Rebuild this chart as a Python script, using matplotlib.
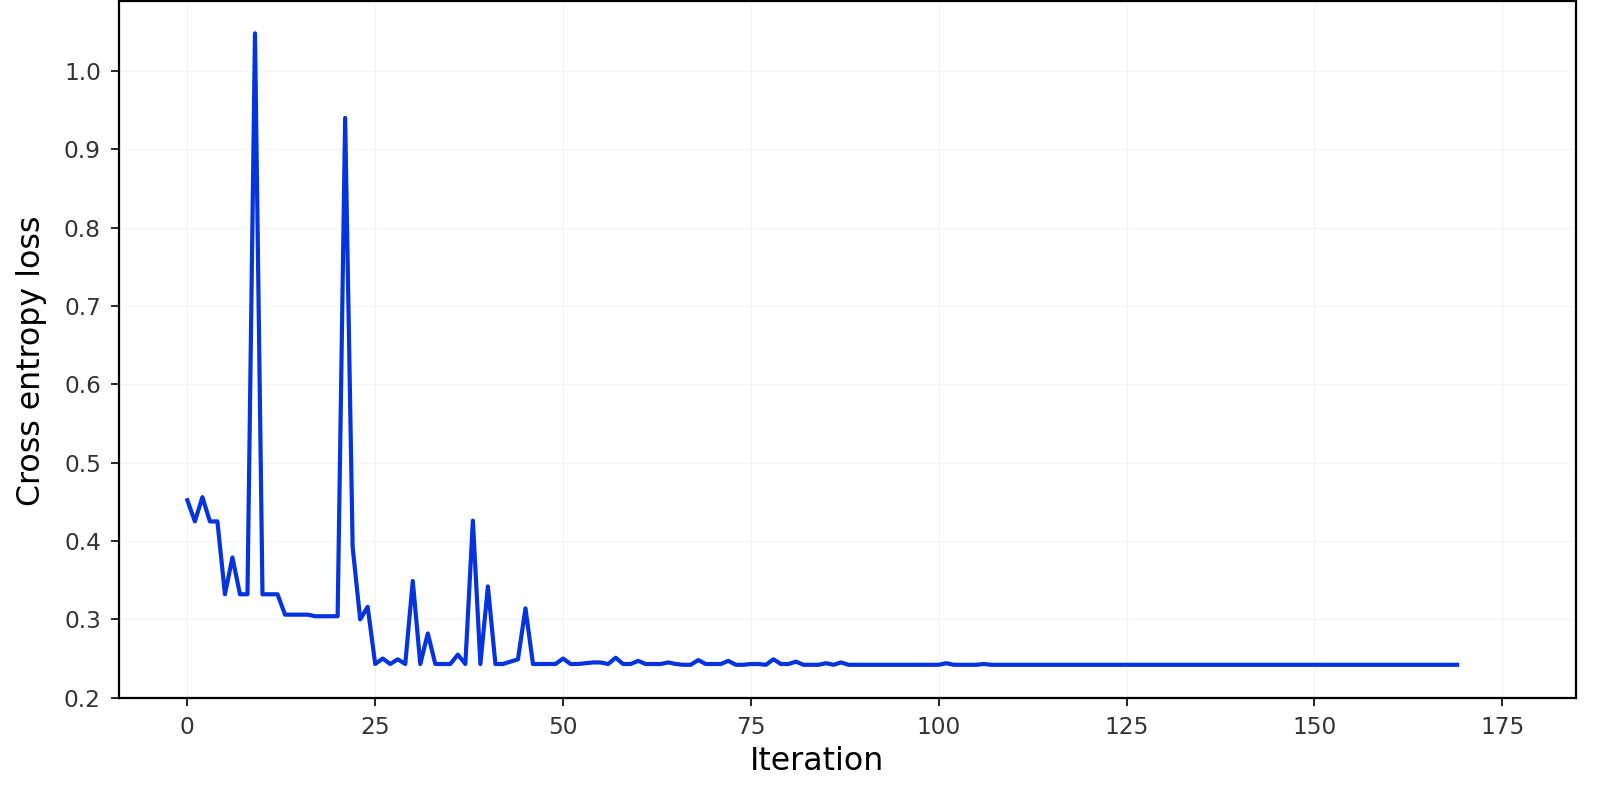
import matplotlib
matplotlib.use("Agg")
import matplotlib.pyplot as plt
import numpy as np

# loss per iteration
loss = [
    0.452, 0.425, 0.456, 0.425, 0.425, 0.332, 0.379, 0.332, 0.332, 1.048,
    0.332, 0.332, 0.332, 0.306, 0.306, 0.306, 0.306, 0.304, 0.304, 0.304,
    0.304, 0.940, 0.392, 0.300, 0.316, 0.243, 0.250, 0.243, 0.249, 0.243,
    0.349, 0.243, 0.282, 0.243, 0.243, 0.243, 0.255, 0.243, 0.426, 0.243,
    0.342, 0.243, 0.243, 0.246, 0.249, 0.314, 0.243, 0.243, 0.243, 0.243,
    0.250, 0.243, 0.243, 0.244, 0.245, 0.245, 0.243, 0.251, 0.243, 0.243,
    0.247, 0.243, 0.243, 0.243, 0.245, 0.243, 0.242, 0.242, 0.248, 0.243,
    0.243, 0.243, 0.247, 0.242, 0.242, 0.243, 0.243, 0.242, 0.249, 0.243,
    0.243, 0.246, 0.242, 0.242, 0.242, 0.244, 0.242, 0.245, 0.242, 0.242,
    0.242, 0.242, 0.242, 0.242, 0.242, 0.242, 0.242, 0.242, 0.242, 0.242,
    0.242, 0.244, 0.242, 0.242, 0.242, 0.242, 0.243, 0.242, 0.242, 0.242,
    0.242, 0.242, 0.242, 0.242, 0.242, 0.242, 0.242, 0.242, 0.242, 0.242,
    0.242, 0.242, 0.242, 0.242, 0.242, 0.242, 0.242, 0.242, 0.242, 0.242,
    0.242, 0.242, 0.242, 0.242, 0.242, 0.242, 0.242, 0.242, 0.242, 0.242,
    0.242, 0.242, 0.242, 0.242, 0.242, 0.242, 0.242, 0.242, 0.242, 0.242,
    0.242, 0.242, 0.242, 0.242, 0.242, 0.242, 0.242, 0.242, 0.242, 0.242,
    0.242, 0.242, 0.242, 0.242, 0.242, 0.242, 0.242, 0.242, 0.242, 0.242,
]
iterations = np.arange(len(loss))
x_ticks = [0, 25, 50, 75, 100, 125, 150, 175]
y_ticks = [0.2, 0.3, 0.4, 0.5, 0.6, 0.7, 0.8, 0.9, 1.0]

fig = plt.figure(figsize=(8.04, 3.98), dpi=200)
ax = fig.add_axes([0.074, 0.1235, 0.906, 0.875])

ax.plot(iterations, loss, color="#0433e0", linewidth=1.5)

ax.set_xlim(-9.1, 184.8)
ax.set_ylim(0.2, 1.089)
ax.set_xticks(x_ticks)
ax.set_yticks(y_ticks)
ax.set_yticklabels([f"{v:.1f}" for v in y_ticks])
ax.grid(True, color="#f5f5f5", linewidth=0.5)
ax.set_axisbelow(True)

ax.tick_params(labelsize=8.4, labelcolor="#333333", length=3, width=0.6)
for sp in ax.spines.values():
    sp.set_linewidth(0.8)

ax.set_xlabel("Iteration", fontsize=11.4, labelpad=2.5)
ax.set_ylabel("Cross entropy loss", fontsize=11.4, labelpad=6)
# labels sit a bit off-centre in the reference
ax.xaxis.label.set_x(0.479)
ax.yaxis.label.set_y(0.484)

fig.savefig("out.png", dpi=200)
